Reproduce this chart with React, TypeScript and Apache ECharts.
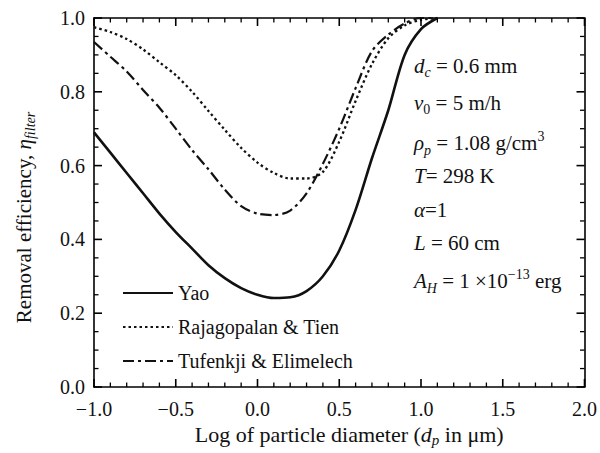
import React, { useEffect, useRef } from "react";
import * as echarts from "echarts";

const xs = [-1.0, -0.9, -0.8, -0.7, -0.6, -0.5, -0.4, -0.3, -0.2, -0.1, 0.0, 0.1, 0.2, 0.3, 0.4, 0.5, 0.6, 0.7, 0.8, 0.9, 1.0, 1.1];
const yao = [0.69, 0.635, 0.58, 0.525, 0.47, 0.42, 0.375, 0.33, 0.295, 0.268, 0.25, 0.241, 0.243, 0.26, 0.3, 0.37, 0.48, 0.62, 0.75, 0.9, 0.97, 1.0];
const rajTien = [0.975, 0.962, 0.943, 0.915, 0.88, 0.845, 0.8, 0.748, 0.697, 0.648, 0.608, 0.58, 0.565, 0.565, 0.583, 0.665, 0.775, 0.875, 0.945, 0.98, 0.995, 1.0];
const tufElim = [0.935, 0.895, 0.855, 0.805, 0.757, 0.7, 0.642, 0.59, 0.535, 0.49, 0.47, 0.466, 0.478, 0.525, 0.605, 0.7, 0.81, 0.91, 0.955, 0.985, 1.0, 1.0];
const seriesNames = ["Yao", "Rajagopalan & Tien", "Tufenkji & Elimelech"];
const annotations = [
  "{i|d}{sub|c}{n| = 0.6 mm}",
  "{i|v}{subn|0}{n| = 5 m/h}",
  "{i|ρ}{sub|p}{n| = 1.08 g/cm}{sup|3}",
  "{i|T}{n|= 298 K}",
  "{i|α}{n|=1}",
  "{i|L}{n| = 60 cm}",
  "{i|A}{sub|H}{n| = 1 ×10}{sup|−13}{n| erg}",
];

const FONT = "'Liberation Serif', 'Times New Roman', serif";

const pair = (ys: number[]) => xs.map((x, i) => [x, ys[i]]);

// tick positions: x every 0.1 (major every 0.5), y every 0.05 (major every 0.2)
const tickItems: number[][] = [];
for (let i = 0; i <= 30; i++) tickItems.push([-1 + i / 10, 0, i % 5 === 0 ? 1 : 0]);
for (let i = 0; i <= 20; i++) tickItems.push([i / 20, 1, i % 4 === 0 ? 1 : 0]);

const rich = (size: number, lh: number) => {
  const s = Math.round(size * 0.68);
  return {
    n: { fontSize: size, fontFamily: FONT, color: "#111", lineHeight: lh },
    i: { fontSize: size, fontFamily: FONT, fontStyle: "italic", color: "#111", lineHeight: lh },
    sub: { fontSize: s, fontFamily: FONT, fontStyle: "italic", color: "#111", lineHeight: s + 1, verticalAlign: "bottom" },
    subn: { fontSize: s, fontFamily: FONT, color: "#111", lineHeight: s + 1, verticalAlign: "bottom" },
    sup: { fontSize: s, fontFamily: FONT, color: "#111", lineHeight: s + 1, verticalAlign: "top" },
  };
};

const fmt = (v: number) => (v < 0 ? "\u2212" + Math.abs(v).toFixed(1) : v.toFixed(1));

const line = () => ({ show: true, onZero: false, lineStyle: { color: "#000", width: 1.6 } });

export default function App() {
  const ref = useRef<HTMLDivElement>(null);
  useEffect(() => {
    if (!ref.current) return;
    const chart = echarts.init(ref.current, null, { renderer: "svg" });
    const annotRich = rich(21, 28);
    const tops = [55, 92, 129, 165, 199, 232, 267];
    const annotGraphics = annotations.map((t, k) => ({
      type: "text",
      left: 414,
      top: tops[k],
      style: { text: t, rich: annotRich, fill: "#111" },
      z: 10,
    }));
    const renderTick = (params: any, api: any) => {
      const v = api.value(0);
      const axis = api.value(1);
      const major = api.value(2) === 1;
      const len = major ? 8 : 4.5;
      const cs = params.coordSys;
      const st = { stroke: "#000", lineWidth: major ? 1.6 : 1.3 };
      if (axis === 0) {
        const px = api.coord([v, 0])[0];
        const b = cs.y + cs.height;
        const t = cs.y;
        return {
          type: "group",
          children: [
            { type: "line", shape: { x1: px, y1: b, x2: px, y2: b - len }, style: st },
            { type: "line", shape: { x1: px, y1: t, x2: px, y2: t + len }, style: st },
          ],
        };
      }
      const py = api.coord([-1, v])[1];
      const l = cs.x;
      const r = cs.x + cs.width;
      return {
        type: "group",
        children: [
          { type: "line", shape: { x1: l, y1: py, x2: l + len, y2: py }, style: st },
          { type: "line", shape: { x1: r, y1: py, x2: r - len, y2: py }, style: st },
        ],
      };
    };
    chart.setOption({
      animation: false,
      backgroundColor: "#fff",
      grid: { left: 94, right: 13, top: 18, bottom: 66, containLabel: false },
      legend: {
        orient: "vertical",
        left: 122,
        top: 283,
        padding: 0,
        itemWidth: 50,
        itemHeight: 14,
        itemGap: 14,
        data: seriesNames,
        itemStyle: { opacity: 0 },
        textStyle: { fontSize: 20, lineHeight: 20, fontFamily: FONT, color: "#111", padding: [0, 0, 0, 0] },
      },
      xAxis: [
        {
          type: "value",
          min: -1,
          max: 2,
          interval: 0.5,
          position: "bottom",
          axisLine: line(),
          axisTick: { show: false },
          splitLine: { show: false },
          axisLabel: { formatter: fmt, fontSize: 20, fontFamily: FONT, color: "#111", margin: 12 },
          name: "{n|Log of particle diameter (}{i|d}{sub|p}{n| in μm)}",
          nameLocation: "middle",
          nameGap: 32,
          nameTextStyle: { rich: rich(22, 26), padding: [0, 0, 0, 20] },
        },
        {
          type: "value",
          min: -1,
          max: 2,
          interval: 0.5,
          position: "top",
          axisLine: line(),
          axisTick: { show: false },
          splitLine: { show: false },
          axisLabel: { show: false },
        },
      ],
      yAxis: [
        {
          type: "value",
          min: 0,
          max: 1,
          interval: 0.2,
          position: "left",
          axisLine: line(),
          axisTick: { show: false },
          splitLine: { show: false },
          axisLabel: { formatter: (v: number) => v.toFixed(1), fontSize: 20, fontFamily: FONT, color: "#111", margin: 9 },
          name: "{n|Removal efficiency, }{i|η}{sub|filter}",
          nameLocation: "middle",
          nameGap: 57,
          nameTextStyle: { rich: rich(21, 26), padding: [0, 30, 0, 0] },
        },
        {
          type: "value",
          min: 0,
          max: 1,
          interval: 0.2,
          position: "right",
          axisLine: line(),
          axisTick: { show: false },
          splitLine: { show: false },
          axisLabel: { show: false },
        },
      ],
      series: [
        {
          name: seriesNames[0],
          type: "line",
          data: pair(yao),
          smooth: 0.3,
          symbol: "none",
          lineStyle: { color: "#111", width: 2.6, type: "solid" },
          itemStyle: { color: "#111" },
        },
        {
          name: seriesNames[1],
          type: "line",
          data: pair(rajTien),
          smooth: 0.3,
          symbol: "none",
          lineStyle: { color: "#111", width: 2.3, type: [2.5, 3] },
          itemStyle: { color: "#111" },
        },
        {
          name: seriesNames[2],
          type: "line",
          data: pair(tufElim),
          smooth: 0.3,
          symbol: "none",
          lineStyle: { color: "#111", width: 2.2, type: [11, 4, 3, 4] },
          itemStyle: { color: "#111" },
        },
        {
          name: "ticks",
          type: "custom",
          xAxisIndex: 0,
          yAxisIndex: 0,
          silent: true,
          clip: false,
          z: 5,
          data: tickItems,
          renderItem: renderTick,
        },
      ],
      graphic: annotGraphics,
    });
    return () => chart.dispose();
  }, []);
  return <div ref={ref} style={{ width: 600, height: 453, position: "absolute", left: 0, top: 0 }} />;
}
